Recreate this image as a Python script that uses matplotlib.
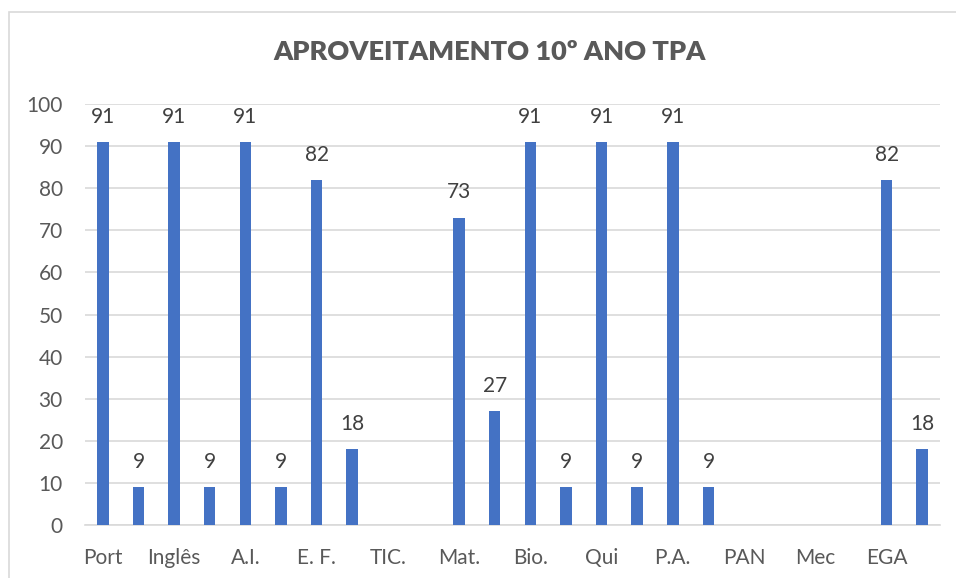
import numpy as np
import matplotlib
matplotlib.use("Agg")
import matplotlib.pyplot as plt
from matplotlib.patches import Rectangle

plt.rcParams['font.family'] = ['Lato', 'DejaVu Sans']

# --- dados ---
disciplinas = ["Port", "Inglês", "A.I.", "E. F.", "TIC.", "Mat.",
               "Bio.", "Qui", "P.A.", "PAN", "Mec", "EGA"]
aprovados = [91, 91, 91, 82, None, 73, 91, 91, 91, None, None, 82]
reprovados = [9, 9, 9, 18, None, 27, 9, 9, 9, None, None, 18]

# série única de 24 posições (alternando aprovados / reprovados)
valores = []
rotulos = []
for nome, a, r in zip(disciplinas, aprovados, reprovados):
    valores += [a, r]
    rotulos += [nome, ""]

cor_barra = '#4472c4'
cor_texto = '#595959'
cor_grelha = '#d9d9d9'

fig = plt.figure(figsize=(9.56, 5.78), dpi=100)
ax = fig.add_axes([85 / 956, 1 - 525 / 578, (940 - 85) / 956, (525 - 104) / 578])

x = np.arange(len(valores))
alturas = [v if v is not None else 0 for v in valores]
ax.bar(x, alturas, width=0.32, color=cor_barra, zorder=3)

# rótulos de dados
for xi, v in zip(x, valores):
    if v is None:
        continue
    ax.annotate(f"{v}", (xi, v), xytext=(0, 11), textcoords='offset points',
                ha='center', va='bottom', fontsize=15, color='#404040')

ax.set_xlim(-0.5, len(valores) - 0.5)
ax.set_ylim(0, 100)
ax.set_yticks(range(0, 101, 10))
ax.set_xticks(x)
ax.set_xticklabels(rotulos)

ax.grid(axis='y', color=cor_grelha, linewidth=1.2, zorder=0)
for lado in ['top', 'right', 'left']:
    ax.spines[lado].set_visible(False)
ax.spines['bottom'].set_color(cor_grelha)
ax.spines['bottom'].set_linewidth(1.2)
ax.tick_params(axis='both', length=0, labelsize=15, colors=cor_texto)
ax.tick_params(axis='y', pad=16)
ax.tick_params(axis='x', pad=16.5)

fig.text(490 / 956, 1 - 52 / 578, "APROVEITAMENTO 10º ANO TPA", ha='center', va='center',
         fontsize=19.5, fontweight='heavy', color=cor_texto)

# moldura do gráfico
fig.patches.append(Rectangle((9 / 956, -0.1), 1.2, 1 - 12 / 578 + 0.1, transform=fig.transFigure,
                             fill=False, edgecolor=cor_grelha, linewidth=1.2))

fig.savefig("out.png", dpi=100)
